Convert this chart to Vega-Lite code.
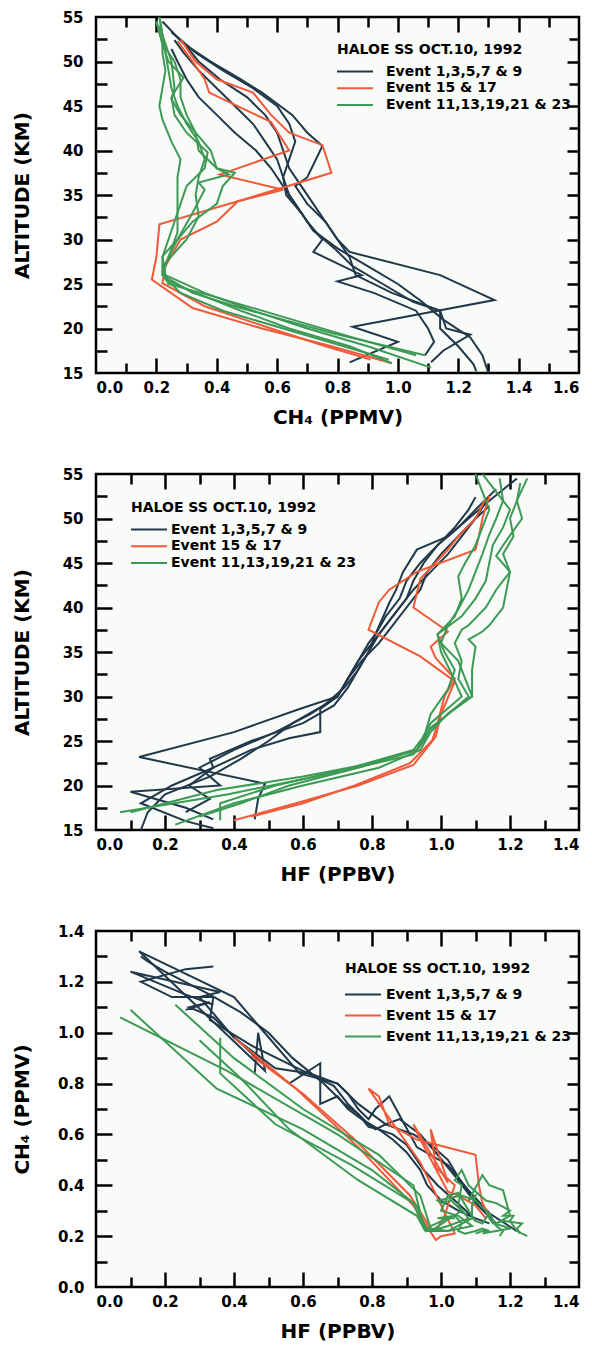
{
"$schema":"https://vega.github.io/schema/vega-lite/v6.json",
"background":"white",
"padding":{"left":10,"top":8,"right":4,"bottom":4},
"config":{
 "view":{"stroke":"black","strokeWidth":2.5,"fill":"#f8fbf8"},
 "axis":{"labelFont":"DejaVu Sans","labelFontWeight":"bold","labelFontSize":15,"labelColor":"black","titleFont":"DejaVu Sans","titleFontWeight":"bold","titleFontSize":20,"titleColor":"black","grid":false,"domain":false,"tickColor":"black","tickWidth":2.5},
 "legend":{"labelFont":"DejaVu Sans","labelFontWeight":"bold","labelFontSize":14,"labelColor":"black","titleFont":"DejaVu Sans","titleFontWeight":"bold","titleFontSize":14,"titleColor":"black","titleLimit":400,"labelLimit":400,"padding":0,"symbolType":"M-2.4,0H2.4","symbolSize":225,"symbolStrokeWidth":2,"symbolOffset":9.5,"labelOffset":22.5,"rowPadding":0.8,"titlePadding":6}
},
"datasets":{"p":[
{"ev":1,"grp":"Event 1,3,5,7 & 9","alt":54.5,"ch4":0.22,"hf":1.22},
{"ev":1,"grp":"Event 1,3,5,7 & 9","alt":52,"ch4":0.29,"hf":1.14},
{"ev":1,"grp":"Event 1,3,5,7 & 9","alt":50,"ch4":0.38,"hf":1.08},
{"ev":1,"grp":"Event 1,3,5,7 & 9","alt":48,"ch4":0.48,"hf":1.02},
{"ev":1,"grp":"Event 1,3,5,7 & 9","alt":46.5,"ch4":0.55,"hf":0.93},
{"ev":1,"grp":"Event 1,3,5,7 & 9","alt":44,"ch4":0.65,"hf":0.89},
{"ev":1,"grp":"Event 1,3,5,7 & 9","alt":42,"ch4":0.70,"hf":0.87},
{"ev":1,"grp":"Event 1,3,5,7 & 9","alt":40.5,"ch4":0.75,"hf":0.85},
{"ev":1,"grp":"Event 1,3,5,7 & 9","alt":37,"ch4":0.70,"hf":0.81},
{"ev":1,"grp":"Event 1,3,5,7 & 9","alt":36,"ch4":0.66,"hf":0.79},
{"ev":1,"grp":"Event 1,3,5,7 & 9","alt":34,"ch4":0.70,"hf":0.76},
{"ev":1,"grp":"Event 1,3,5,7 & 9","alt":32,"ch4":0.76,"hf":0.73},
{"ev":1,"grp":"Event 1,3,5,7 & 9","alt":30,"ch4":0.80,"hf":0.70},
{"ev":1,"grp":"Event 1,3,5,7 & 9","alt":28.6,"ch4":0.84,"hf":0.59},
{"ev":1,"grp":"Event 1,3,5,7 & 9","alt":26,"ch4":1.14,"hf":0.40},
{"ev":1,"grp":"Event 1,3,5,7 & 9","alt":23.2,"ch4":1.32,"hf":0.125},
{"ev":1,"grp":"Event 1,3,5,7 & 9","alt":20.2,"ch4":0.85,"hf":0.49},
{"ev":1,"grp":"Event 1,3,5,7 & 9","alt":18.5,"ch4":1.00,"hf":0.47},
{"ev":1,"grp":"Event 1,3,5,7 & 9","alt":16.2,"ch4":0.84,"hf":0.46},
{"ev":3,"grp":"Event 1,3,5,7 & 9","alt":53.3,"ch4":0.25,"hf":1.16},
{"ev":3,"grp":"Event 1,3,5,7 & 9","alt":51,"ch4":0.33,"hf":1.10},
{"ev":3,"grp":"Event 1,3,5,7 & 9","alt":49,"ch4":0.42,"hf":1.05},
{"ev":3,"grp":"Event 1,3,5,7 & 9","alt":47,"ch4":0.52,"hf":0.99},
{"ev":3,"grp":"Event 1,3,5,7 & 9","alt":45,"ch4":0.60,"hf":0.94},
{"ev":3,"grp":"Event 1,3,5,7 & 9","alt":43,"ch4":0.64,"hf":0.90},
{"ev":3,"grp":"Event 1,3,5,7 & 9","alt":41,"ch4":0.66,"hf":0.88},
{"ev":3,"grp":"Event 1,3,5,7 & 9","alt":39,"ch4":0.64,"hf":0.84},
{"ev":3,"grp":"Event 1,3,5,7 & 9","alt":37,"ch4":0.62,"hf":0.81},
{"ev":3,"grp":"Event 1,3,5,7 & 9","alt":35,"ch4":0.64,"hf":0.79},
{"ev":3,"grp":"Event 1,3,5,7 & 9","alt":33,"ch4":0.68,"hf":0.76},
{"ev":3,"grp":"Event 1,3,5,7 & 9","alt":31,"ch4":0.72,"hf":0.73},
{"ev":3,"grp":"Event 1,3,5,7 & 9","alt":29,"ch4":0.79,"hf":0.69},
{"ev":3,"grp":"Event 1,3,5,7 & 9","alt":27,"ch4":0.85,"hf":0.60},
{"ev":3,"grp":"Event 1,3,5,7 & 9","alt":25,"ch4":0.95,"hf":0.45},
{"ev":3,"grp":"Event 1,3,5,7 & 9","alt":23,"ch4":1.05,"hf":0.33},
{"ev":3,"grp":"Event 1,3,5,7 & 9","alt":22,"ch4":1.14,"hf":0.34},
{"ev":3,"grp":"Event 1,3,5,7 & 9","alt":20,"ch4":1.14,"hf":0.22},
{"ev":3,"grp":"Event 1,3,5,7 & 9","alt":18,"ch4":1.20,"hf":0.13},
{"ev":3,"grp":"Event 1,3,5,7 & 9","alt":16,"ch4":1.25,"hf":0.26},
{"ev":3,"grp":"Event 1,3,5,7 & 9","alt":15.2,"ch4":1.26,"hf":0.34},
{"ev":5,"grp":"Event 1,3,5,7 & 9","alt":52.4,"ch4":0.26,"hf":1.10},
{"ev":5,"grp":"Event 1,3,5,7 & 9","alt":51,"ch4":0.29,"hf":1.08},
{"ev":5,"grp":"Event 1,3,5,7 & 9","alt":49,"ch4":0.34,"hf":1.04},
{"ev":5,"grp":"Event 1,3,5,7 & 9","alt":47,"ch4":0.40,"hf":0.99},
{"ev":5,"grp":"Event 1,3,5,7 & 9","alt":45,"ch4":0.46,"hf":0.95},
{"ev":5,"grp":"Event 1,3,5,7 & 9","alt":43,"ch4":0.52,"hf":0.92},
{"ev":5,"grp":"Event 1,3,5,7 & 9","alt":41,"ch4":0.56,"hf":0.90},
{"ev":5,"grp":"Event 1,3,5,7 & 9","alt":39,"ch4":0.60,"hf":0.86},
{"ev":5,"grp":"Event 1,3,5,7 & 9","alt":37,"ch4":0.62,"hf":0.82},
{"ev":5,"grp":"Event 1,3,5,7 & 9","alt":35,"ch4":0.63,"hf":0.79},
{"ev":5,"grp":"Event 1,3,5,7 & 9","alt":33,"ch4":0.68,"hf":0.76},
{"ev":5,"grp":"Event 1,3,5,7 & 9","alt":31,"ch4":0.72,"hf":0.72},
{"ev":5,"grp":"Event 1,3,5,7 & 9","alt":29,"ch4":0.80,"hf":0.66},
{"ev":5,"grp":"Event 1,3,5,7 & 9","alt":27,"ch4":0.90,"hf":0.57},
{"ev":5,"grp":"Event 1,3,5,7 & 9","alt":25,"ch4":1.00,"hf":0.50},
{"ev":5,"grp":"Event 1,3,5,7 & 9","alt":23,"ch4":1.08,"hf":0.42},
{"ev":5,"grp":"Event 1,3,5,7 & 9","alt":21,"ch4":1.15,"hf":0.33},
{"ev":5,"grp":"Event 1,3,5,7 & 9","alt":19,"ch4":1.24,"hf":0.20},
{"ev":5,"grp":"Event 1,3,5,7 & 9","alt":17,"ch4":1.28,"hf":0.15},
{"ev":5,"grp":"Event 1,3,5,7 & 9","alt":15,"ch4":1.30,"hf":0.13},
{"ev":7,"grp":"Event 1,3,5,7 & 9","alt":51.4,"ch4":0.25,"hf":1.14},
{"ev":7,"grp":"Event 1,3,5,7 & 9","alt":50,"ch4":0.27,"hf":1.10},
{"ev":7,"grp":"Event 1,3,5,7 & 9","alt":48,"ch4":0.30,"hf":1.05},
{"ev":7,"grp":"Event 1,3,5,7 & 9","alt":46,"ch4":0.34,"hf":1.00},
{"ev":7,"grp":"Event 1,3,5,7 & 9","alt":44,"ch4":0.40,"hf":0.96},
{"ev":7,"grp":"Event 1,3,5,7 & 9","alt":42,"ch4":0.46,"hf":0.94},
{"ev":7,"grp":"Event 1,3,5,7 & 9","alt":40,"ch4":0.53,"hf":0.90},
{"ev":7,"grp":"Event 1,3,5,7 & 9","alt":38,"ch4":0.58,"hf":0.86},
{"ev":7,"grp":"Event 1,3,5,7 & 9","alt":36,"ch4":0.62,"hf":0.82},
{"ev":7,"grp":"Event 1,3,5,7 & 9","alt":34,"ch4":0.66,"hf":0.77},
{"ev":7,"grp":"Event 1,3,5,7 & 9","alt":32,"ch4":0.70,"hf":0.73},
{"ev":7,"grp":"Event 1,3,5,7 & 9","alt":30,"ch4":0.75,"hf":0.70},
{"ev":7,"grp":"Event 1,3,5,7 & 9","alt":28.6,"ch4":0.72,"hf":0.65},
{"ev":7,"grp":"Event 1,3,5,7 & 9","alt":26,"ch4":0.88,"hf":0.65},
{"ev":7,"grp":"Event 1,3,5,7 & 9","alt":25.3,"ch4":0.80,"hf":0.56},
{"ev":7,"grp":"Event 1,3,5,7 & 9","alt":24,"ch4":0.92,"hf":0.45},
{"ev":7,"grp":"Event 1,3,5,7 & 9","alt":22,"ch4":1.06,"hf":0.34},
{"ev":7,"grp":"Event 1,3,5,7 & 9","alt":20,"ch4":1.10,"hf":0.27},
{"ev":7,"grp":"Event 1,3,5,7 & 9","alt":18.5,"ch4":1.12,"hf":0.33},
{"ev":7,"grp":"Event 1,3,5,7 & 9","alt":17,"ch4":1.09,"hf":0.26},
{"ev":9,"grp":"Event 1,3,5,7 & 9","alt":52.5,"ch4":0.28,"hf":1.14},
{"ev":9,"grp":"Event 1,3,5,7 & 9","alt":50,"ch4":0.34,"hf":1.10},
{"ev":9,"grp":"Event 1,3,5,7 & 9","alt":48,"ch4":0.41,"hf":1.06},
{"ev":9,"grp":"Event 1,3,5,7 & 9","alt":46,"ch4":0.50,"hf":1.02},
{"ev":9,"grp":"Event 1,3,5,7 & 9","alt":44,"ch4":0.56,"hf":0.97},
{"ev":9,"grp":"Event 1,3,5,7 & 9","alt":42,"ch4":0.60,"hf":0.92},
{"ev":9,"grp":"Event 1,3,5,7 & 9","alt":40,"ch4":0.62,"hf":0.88},
{"ev":9,"grp":"Event 1,3,5,7 & 9","alt":38,"ch4":0.64,"hf":0.84},
{"ev":9,"grp":"Event 1,3,5,7 & 9","alt":36,"ch4":0.68,"hf":0.80},
{"ev":9,"grp":"Event 1,3,5,7 & 9","alt":34,"ch4":0.72,"hf":0.76},
{"ev":9,"grp":"Event 1,3,5,7 & 9","alt":32,"ch4":0.76,"hf":0.73},
{"ev":9,"grp":"Event 1,3,5,7 & 9","alt":30,"ch4":0.80,"hf":0.70},
{"ev":9,"grp":"Event 1,3,5,7 & 9","alt":28,"ch4":0.84,"hf":0.62},
{"ev":9,"grp":"Event 1,3,5,7 & 9","alt":26,"ch4":0.86,"hf":0.52},
{"ev":9,"grp":"Event 1,3,5,7 & 9","alt":24,"ch4":0.98,"hf":0.40},
{"ev":9,"grp":"Event 1,3,5,7 & 9","alt":22,"ch4":1.14,"hf":0.30},
{"ev":9,"grp":"Event 1,3,5,7 & 9","alt":20,"ch4":1.16,"hf":0.36},
{"ev":9,"grp":"Event 1,3,5,7 & 9","alt":19.3,"ch4":1.24,"hf":0.10},
{"ev":9,"grp":"Event 1,3,5,7 & 9","alt":17.5,"ch4":1.15,"hf":0.26},
{"ev":9,"grp":"Event 1,3,5,7 & 9","alt":16.2,"ch4":1.11,"hf":0.34},
{"ev":15,"grp":"Event 15 & 17","alt":52.5,"ch4":0.28,"hf":1.14},
{"ev":15,"grp":"Event 15 & 17","alt":50,"ch4":0.33,"hf":1.12},
{"ev":15,"grp":"Event 15 & 17","alt":48,"ch4":0.40,"hf":1.11},
{"ev":15,"grp":"Event 15 & 17","alt":46.5,"ch4":0.52,"hf":1.10},
{"ev":15,"grp":"Event 15 & 17","alt":44,"ch4":0.58,"hf":0.93},
{"ev":15,"grp":"Event 15 & 17","alt":42,"ch4":0.64,"hf":0.85},
{"ev":15,"grp":"Event 15 & 17","alt":40.6,"ch4":0.75,"hf":0.82},
{"ev":15,"grp":"Event 15 & 17","alt":37.5,"ch4":0.78,"hf":0.79},
{"ev":15,"grp":"Event 15 & 17","alt":34.5,"ch4":0.49,"hf":0.94},
{"ev":15,"grp":"Event 15 & 17","alt":31.7,"ch4":0.21,"hf":1.04},
{"ev":15,"grp":"Event 15 & 17","alt":28,"ch4":0.20,"hf":1.00},
{"ev":15,"grp":"Event 15 & 17","alt":25.5,"ch4":0.185,"hf":0.985},
{"ev":15,"grp":"Event 15 & 17","alt":22.3,"ch4":0.32,"hf":0.92},
{"ev":15,"grp":"Event 15 & 17","alt":20,"ch4":0.55,"hf":0.76},
{"ev":15,"grp":"Event 15 & 17","alt":18,"ch4":0.78,"hf":0.58},
{"ev":15,"grp":"Event 15 & 17","alt":16.1,"ch4":0.98,"hf":0.40},
{"ev":17,"grp":"Event 15 & 17","alt":52.3,"ch4":0.27,"hf":1.13},
{"ev":17,"grp":"Event 15 & 17","alt":50,"ch4":0.32,"hf":1.10},
{"ev":17,"grp":"Event 15 & 17","alt":48,"ch4":0.36,"hf":1.05},
{"ev":17,"grp":"Event 15 & 17","alt":46.5,"ch4":0.375,"hf":1.02},
{"ev":17,"grp":"Event 15 & 17","alt":43.2,"ch4":0.58,"hf":0.94},
{"ev":17,"grp":"Event 15 & 17","alt":40,"ch4":0.64,"hf":0.92},
{"ev":17,"grp":"Event 15 & 17","alt":37.3,"ch4":0.41,"hf":1.02},
{"ev":17,"grp":"Event 15 & 17","alt":35.6,"ch4":0.62,"hf":0.97},
{"ev":17,"grp":"Event 15 & 17","alt":34.3,"ch4":0.47,"hf":0.985},
{"ev":17,"grp":"Event 15 & 17","alt":32,"ch4":0.40,"hf":1.04},
{"ev":17,"grp":"Event 15 & 17","alt":30,"ch4":0.28,"hf":1.01},
{"ev":17,"grp":"Event 15 & 17","alt":27,"ch4":0.23,"hf":0.99},
{"ev":17,"grp":"Event 15 & 17","alt":25.1,"ch4":0.22,"hf":0.975},
{"ev":17,"grp":"Event 15 & 17","alt":22.5,"ch4":0.36,"hf":0.91},
{"ev":17,"grp":"Event 15 & 17","alt":20,"ch4":0.58,"hf":0.75},
{"ev":17,"grp":"Event 15 & 17","alt":18,"ch4":0.76,"hf":0.60},
{"ev":17,"grp":"Event 15 & 17","alt":16.5,"ch4":0.91,"hf":0.45},
{"ev":11,"grp":"Event 11,13,19,21 & 23","alt":55,"ch4":0.21,"hf":1.10},
{"ev":11,"grp":"Event 11,13,19,21 & 23","alt":53,"ch4":0.22,"hf":1.12},
{"ev":11,"grp":"Event 11,13,19,21 & 23","alt":51,"ch4":0.22,"hf":1.14},
{"ev":11,"grp":"Event 11,13,19,21 & 23","alt":49,"ch4":0.23,"hf":1.12},
{"ev":11,"grp":"Event 11,13,19,21 & 23","alt":47,"ch4":0.22,"hf":1.10},
{"ev":11,"grp":"Event 11,13,19,21 & 23","alt":45,"ch4":0.21,"hf":1.07},
{"ev":11,"grp":"Event 11,13,19,21 & 23","alt":43.5,"ch4":0.22,"hf":1.05},
{"ev":11,"grp":"Event 11,13,19,21 & 23","alt":41,"ch4":0.25,"hf":1.06},
{"ev":11,"grp":"Event 11,13,19,21 & 23","alt":39,"ch4":0.28,"hf":1.04},
{"ev":11,"grp":"Event 11,13,19,21 & 23","alt":37,"ch4":0.27,"hf":0.99},
{"ev":11,"grp":"Event 11,13,19,21 & 23","alt":35,"ch4":0.27,"hf":1.01},
{"ev":11,"grp":"Event 11,13,19,21 & 23","alt":33,"ch4":0.27,"hf":1.04},
{"ev":11,"grp":"Event 11,13,19,21 & 23","alt":30.8,"ch4":0.27,"hf":1.02},
{"ev":11,"grp":"Event 11,13,19,21 & 23","alt":28,"ch4":0.24,"hf":0.97},
{"ev":11,"grp":"Event 11,13,19,21 & 23","alt":26,"ch4":0.22,"hf":0.955},
{"ev":11,"grp":"Event 11,13,19,21 & 23","alt":24,"ch4":0.28,"hf":0.93},
{"ev":11,"grp":"Event 11,13,19,21 & 23","alt":22,"ch4":0.42,"hf":0.76},
{"ev":11,"grp":"Event 11,13,19,21 & 23","alt":20,"ch4":0.62,"hf":0.56},
{"ev":11,"grp":"Event 11,13,19,21 & 23","alt":18,"ch4":0.82,"hf":0.42},
{"ev":11,"grp":"Event 11,13,19,21 & 23","alt":16.5,"ch4":0.97,"hf":0.30},
{"ev":13,"grp":"Event 11,13,19,21 & 23","alt":54.5,"ch4":0.20,"hf":1.17},
{"ev":13,"grp":"Event 11,13,19,21 & 23","alt":52,"ch4":0.22,"hf":1.18},
{"ev":13,"grp":"Event 11,13,19,21 & 23","alt":50,"ch4":0.24,"hf":1.16},
{"ev":13,"grp":"Event 11,13,19,21 & 23","alt":48.2,"ch4":0.29,"hf":1.14},
{"ev":13,"grp":"Event 11,13,19,21 & 23","alt":46,"ch4":0.25,"hf":1.12},
{"ev":13,"grp":"Event 11,13,19,21 & 23","alt":44,"ch4":0.26,"hf":1.10},
{"ev":13,"grp":"Event 11,13,19,21 & 23","alt":42,"ch4":0.30,"hf":1.08},
{"ev":13,"grp":"Event 11,13,19,21 & 23","alt":39.8,"ch4":0.37,"hf":1.05},
{"ev":13,"grp":"Event 11,13,19,21 & 23","alt":38,"ch4":0.36,"hf":1.02},
{"ev":13,"grp":"Event 11,13,19,21 & 23","alt":36,"ch4":0.30,"hf":1.00},
{"ev":13,"grp":"Event 11,13,19,21 & 23","alt":34,"ch4":0.28,"hf":1.05},
{"ev":13,"grp":"Event 11,13,19,21 & 23","alt":32,"ch4":0.26,"hf":1.07},
{"ev":13,"grp":"Event 11,13,19,21 & 23","alt":30,"ch4":0.24,"hf":1.09},
{"ev":13,"grp":"Event 11,13,19,21 & 23","alt":28,"ch4":0.22,"hf":1.02},
{"ev":13,"grp":"Event 11,13,19,21 & 23","alt":26,"ch4":0.22,"hf":0.96},
{"ev":13,"grp":"Event 11,13,19,21 & 23","alt":24,"ch4":0.32,"hf":0.93},
{"ev":13,"grp":"Event 11,13,19,21 & 23","alt":22.5,"ch4":0.46,"hf":0.80},
{"ev":13,"grp":"Event 11,13,19,21 & 23","alt":21,"ch4":0.62,"hf":0.60},
{"ev":13,"grp":"Event 11,13,19,21 & 23","alt":19.5,"ch4":0.78,"hf":0.35},
{"ev":13,"grp":"Event 11,13,19,21 & 23","alt":17,"ch4":1.09,"hf":0.10},
{"ev":19,"grp":"Event 11,13,19,21 & 23","alt":54,"ch4":0.21,"hf":1.23},
{"ev":19,"grp":"Event 11,13,19,21 & 23","alt":52,"ch4":0.23,"hf":1.22},
{"ev":19,"grp":"Event 11,13,19,21 & 23","alt":50,"ch4":0.25,"hf":1.235},
{"ev":19,"grp":"Event 11,13,19,21 & 23","alt":47,"ch4":0.26,"hf":1.18},
{"ev":19,"grp":"Event 11,13,19,21 & 23","alt":45.8,"ch4":0.25,"hf":1.16},
{"ev":19,"grp":"Event 11,13,19,21 & 23","alt":44,"ch4":0.28,"hf":1.20},
{"ev":19,"grp":"Event 11,13,19,21 & 23","alt":42,"ch4":0.33,"hf":1.19},
{"ev":19,"grp":"Event 11,13,19,21 & 23","alt":40,"ch4":0.38,"hf":1.18},
{"ev":19,"grp":"Event 11,13,19,21 & 23","alt":38,"ch4":0.40,"hf":1.14},
{"ev":19,"grp":"Event 11,13,19,21 & 23","alt":37.3,"ch4":0.44,"hf":1.12},
{"ev":19,"grp":"Event 11,13,19,21 & 23","alt":36.4,"ch4":0.34,"hf":1.08},
{"ev":19,"grp":"Event 11,13,19,21 & 23","alt":35.6,"ch4":0.36,"hf":1.10},
{"ev":19,"grp":"Event 11,13,19,21 & 23","alt":33,"ch4":0.32,"hf":1.09},
{"ev":19,"grp":"Event 11,13,19,21 & 23","alt":30,"ch4":0.27,"hf":1.09},
{"ev":19,"grp":"Event 11,13,19,21 & 23","alt":28.1,"ch4":0.22,"hf":1.02},
{"ev":19,"grp":"Event 11,13,19,21 & 23","alt":26,"ch4":0.23,"hf":0.97},
{"ev":19,"grp":"Event 11,13,19,21 & 23","alt":24,"ch4":0.36,"hf":0.94},
{"ev":19,"grp":"Event 11,13,19,21 & 23","alt":22,"ch4":0.52,"hf":0.82},
{"ev":19,"grp":"Event 11,13,19,21 & 23","alt":20,"ch4":0.70,"hf":0.60},
{"ev":19,"grp":"Event 11,13,19,21 & 23","alt":18,"ch4":0.90,"hf":0.40},
{"ev":19,"grp":"Event 11,13,19,21 & 23","alt":15.6,"ch4":1.11,"hf":0.23},
{"ev":21,"grp":"Event 11,13,19,21 & 23","alt":55,"ch4":0.21,"hf":1.12},
{"ev":21,"grp":"Event 11,13,19,21 & 23","alt":53,"ch4":0.22,"hf":1.16},
{"ev":21,"grp":"Event 11,13,19,21 & 23","alt":51,"ch4":0.23,"hf":1.20},
{"ev":21,"grp":"Event 11,13,19,21 & 23","alt":49,"ch4":0.24,"hf":1.18},
{"ev":21,"grp":"Event 11,13,19,21 & 23","alt":47,"ch4":0.25,"hf":1.15},
{"ev":21,"grp":"Event 11,13,19,21 & 23","alt":45,"ch4":0.27,"hf":1.14},
{"ev":21,"grp":"Event 11,13,19,21 & 23","alt":43,"ch4":0.30,"hf":1.13},
{"ev":21,"grp":"Event 11,13,19,21 & 23","alt":41,"ch4":0.34,"hf":1.10},
{"ev":21,"grp":"Event 11,13,19,21 & 23","alt":39,"ch4":0.36,"hf":1.06},
{"ev":21,"grp":"Event 11,13,19,21 & 23","alt":37,"ch4":0.34,"hf":0.99},
{"ev":21,"grp":"Event 11,13,19,21 & 23","alt":35,"ch4":0.33,"hf":1.00},
{"ev":21,"grp":"Event 11,13,19,21 & 23","alt":32.6,"ch4":0.34,"hf":1.03},
{"ev":21,"grp":"Event 11,13,19,21 & 23","alt":30,"ch4":0.30,"hf":1.06},
{"ev":21,"grp":"Event 11,13,19,21 & 23","alt":27,"ch4":0.22,"hf":0.97},
{"ev":21,"grp":"Event 11,13,19,21 & 23","alt":25.5,"ch4":0.23,"hf":0.95},
{"ev":21,"grp":"Event 11,13,19,21 & 23","alt":24,"ch4":0.33,"hf":0.92},
{"ev":21,"grp":"Event 11,13,19,21 & 23","alt":22,"ch4":0.48,"hf":0.74},
{"ev":21,"grp":"Event 11,13,19,21 & 23","alt":20,"ch4":0.64,"hf":0.52},
{"ev":21,"grp":"Event 11,13,19,21 & 23","alt":18,"ch4":0.84,"hf":0.36},
{"ev":21,"grp":"Event 11,13,19,21 & 23","alt":16.1,"ch4":0.98,"hf":0.36},
{"ev":23,"grp":"Event 11,13,19,21 & 23","alt":54.5,"ch4":0.20,"hf":1.25},
{"ev":23,"grp":"Event 11,13,19,21 & 23","alt":52,"ch4":0.22,"hf":1.22},
{"ev":23,"grp":"Event 11,13,19,21 & 23","alt":50,"ch4":0.26,"hf":1.20},
{"ev":23,"grp":"Event 11,13,19,21 & 23","alt":48,"ch4":0.28,"hf":1.21},
{"ev":23,"grp":"Event 11,13,19,21 & 23","alt":46,"ch4":0.28,"hf":1.18},
{"ev":23,"grp":"Event 11,13,19,21 & 23","alt":44,"ch4":0.30,"hf":1.20},
{"ev":23,"grp":"Event 11,13,19,21 & 23","alt":42,"ch4":0.33,"hf":1.16},
{"ev":23,"grp":"Event 11,13,19,21 & 23","alt":40,"ch4":0.34,"hf":1.13},
{"ev":23,"grp":"Event 11,13,19,21 & 23","alt":38,"ch4":0.40,"hf":1.08},
{"ev":23,"grp":"Event 11,13,19,21 & 23","alt":37.5,"ch4":0.46,"hf":1.06},
{"ev":23,"grp":"Event 11,13,19,21 & 23","alt":36,"ch4":0.42,"hf":1.04},
{"ev":23,"grp":"Event 11,13,19,21 & 23","alt":34,"ch4":0.40,"hf":1.06},
{"ev":23,"grp":"Event 11,13,19,21 & 23","alt":32,"ch4":0.32,"hf":1.05},
{"ev":23,"grp":"Event 11,13,19,21 & 23","alt":30,"ch4":0.27,"hf":1.08},
{"ev":23,"grp":"Event 11,13,19,21 & 23","alt":28,"ch4":0.24,"hf":1.02},
{"ev":23,"grp":"Event 11,13,19,21 & 23","alt":26.5,"ch4":0.22,"hf":0.97},
{"ev":23,"grp":"Event 11,13,19,21 & 23","alt":25,"ch4":0.24,"hf":0.95},
{"ev":23,"grp":"Event 11,13,19,21 & 23","alt":23.5,"ch4":0.40,"hf":0.92},
{"ev":23,"grp":"Event 11,13,19,21 & 23","alt":21.5,"ch4":0.60,"hf":0.70},
{"ev":23,"grp":"Event 11,13,19,21 & 23","alt":19,"ch4":0.85,"hf":0.38},
{"ev":23,"grp":"Event 11,13,19,21 & 23","alt":17,"ch4":1.06,"hf":0.07}
]},
"vconcat":[
{
 "width":483,"height":356,
 "data":{"name":"p"},
 "layer":[
  {"mark":{"type":"line","strokeWidth":2},
   "encoding":{
    "x":{"field":"ch4","type":"quantitative","scale":{"domain":[0,1.6],"nice":false,"zero":false},"axis":{"orient":"bottom","ticks":false,"values":[0,0.2,0.4,0.6,0.8,1.0,1.2,1.4,1.6],"format":".1f","title":"CH₄ (PPMV)","labelPadding":7,"titlePadding":12}},
    "y":{"field":"alt","type":"quantitative","scale":{"domain":[15,55],"nice":false,"zero":false},"axis":{"orient":"left","ticks":false,"values":[15,20,25,30,35,40,45,50,55],"title":"ALTITUDE (KM)","labelPadding":13,"titleX":-64}},
    "color":{"field":"grp","type":"nominal","scale":{"domain":["Event 1,3,5,7 & 9","Event 15 & 17","Event 11,13,19,21 & 23"],"range":["#21384a","#f05a3a","#3d9a55"]},"legend":{"title":"HALOE SS OCT.10, 1992","orient":"none","legendX":241,"legendY":26}},
    "detail":{"field":"ev","type":"nominal"},
    "order":{"field":"alt","type":"quantitative"}
   }},
  {"mark":{"type":"point","opacity":0},
   "encoding":{
    "x":{"field":"ch4","type":"quantitative","scale":{"domain":[0,1.6],"nice":false,"zero":false},"axis":{"orient":"bottom","labels":false,"title":null,"values":[0.1,0.2,0.3,0.4,0.5,0.6,0.7,0.8,0.9,1.0,1.1,1.2,1.3,1.4,1.5],"tickSize":{"condition":{"test":"round(datum.value*10)%2==0","value":-15},"value":-10}}},
    "y":{"field":"alt","type":"quantitative","scale":{"domain":[15,55],"nice":false,"zero":false},"axis":{"orient":"left","labels":false,"title":null,"values":[17.5,20,22.5,25,27.5,30,32.5,35,37.5,40,42.5,45,47.5,50,52.5],"tickSize":{"condition":{"test":"datum.value%5==0","value":-16},"value":-11}}}
   }},
  {"mark":{"type":"point","opacity":0},
   "encoding":{
    "x":{"field":"ch4","type":"quantitative","scale":{"domain":[0,1.6],"nice":false,"zero":false},"axis":{"orient":"top","labels":false,"title":null,"values":[0.1,0.2,0.3,0.4,0.5,0.6,0.7,0.8,0.9,1.0,1.1,1.2,1.3,1.4,1.5],"tickSize":{"condition":{"test":"round(datum.value*10)%2==0","value":-15},"value":-10}}},
    "y":{"field":"alt","type":"quantitative","scale":{"domain":[15,55],"nice":false,"zero":false},"axis":{"orient":"right","labels":false,"title":null,"values":[17.5,20,22.5,25,27.5,30,32.5,35,37.5,40,42.5,45,47.5,50,52.5],"tickSize":{"condition":{"test":"datum.value%5==0","value":-12},"value":-10}}}
   }}
 ],
 "resolve":{"axis":{"x":"independent","y":"independent"}}
},
{
 "width":483,"height":356,
 "data":{"name":"p"},
 "layer":[
  {"mark":{"type":"line","strokeWidth":2},
   "encoding":{
    "x":{"field":"hf","type":"quantitative","scale":{"domain":[0,1.4],"nice":false,"zero":false},"axis":{"orient":"bottom","ticks":false,"values":[0,0.2,0.4,0.6,0.8,1.0,1.2,1.4],"format":".1f","title":"HF (PPBV)","labelPadding":7,"titlePadding":12}},
    "y":{"field":"alt","type":"quantitative","scale":{"domain":[15,55],"nice":false,"zero":false},"axis":{"orient":"left","ticks":false,"values":[15,20,25,30,35,40,45,50,55],"title":"ALTITUDE (KM)","labelPadding":13,"titleX":-64}},
    "color":{"field":"grp","type":"nominal","scale":{"domain":["Event 1,3,5,7 & 9","Event 15 & 17","Event 11,13,19,21 & 23"],"range":["#21384a","#f05a3a","#3d9a55"]},"legend":{"title":"HALOE SS OCT.10, 1992","orient":"none","legendX":35,"legendY":27,"labelOffset":13.5}},
    "detail":{"field":"ev","type":"nominal"},
    "order":{"field":"alt","type":"quantitative"}
   }},
  {"mark":{"type":"point","opacity":0},
   "encoding":{
    "x":{"field":"hf","type":"quantitative","scale":{"domain":[0,1.4],"nice":false,"zero":false},"axis":{"orient":"bottom","labels":false,"title":null,"values":[0.1,0.2,0.3,0.4,0.5,0.6,0.7,0.8,0.9,1.0,1.1,1.2,1.3],"tickSize":{"condition":{"test":"round(datum.value*10)%2==0","value":-15},"value":-10}}},
    "y":{"field":"alt","type":"quantitative","scale":{"domain":[15,55],"nice":false,"zero":false},"axis":{"orient":"left","labels":false,"title":null,"values":[17.5,20,22.5,25,27.5,30,32.5,35,37.5,40,42.5,45,47.5,50,52.5],"tickSize":{"condition":{"test":"datum.value%5==0","value":-16},"value":-11}}}
   }},
  {"mark":{"type":"point","opacity":0},
   "encoding":{
    "x":{"field":"hf","type":"quantitative","scale":{"domain":[0,1.4],"nice":false,"zero":false},"axis":{"orient":"top","labels":false,"title":null,"values":[0.1,0.2,0.3,0.4,0.5,0.6,0.7,0.8,0.9,1.0,1.1,1.2,1.3],"tickSize":{"condition":{"test":"round(datum.value*10)%2==0","value":-15},"value":-10}}},
    "y":{"field":"alt","type":"quantitative","scale":{"domain":[15,55],"nice":false,"zero":false},"axis":{"orient":"right","labels":false,"title":null,"values":[17.5,20,22.5,25,27.5,30,32.5,35,37.5,40,42.5,45,47.5,50,52.5],"tickSize":{"condition":{"test":"datum.value%5==0","value":-12},"value":-10}}}
   }}
 ],
 "resolve":{"axis":{"x":"independent","y":"independent"}}
},
{
 "width":483,"height":356,
 "data":{"name":"p"},
 "layer":[
  {"mark":{"type":"line","strokeWidth":2},
   "encoding":{
    "x":{"field":"hf","type":"quantitative","scale":{"domain":[0,1.4],"nice":false,"zero":false},"axis":{"orient":"bottom","ticks":false,"values":[0,0.2,0.4,0.6,0.8,1.0,1.2,1.4],"format":".1f","title":"HF (PPBV)","labelPadding":7,"titlePadding":12}},
    "y":{"field":"ch4","type":"quantitative","scale":{"domain":[0,1.4],"nice":false,"zero":false},"axis":{"orient":"left","ticks":false,"values":[0,0.2,0.4,0.6,0.8,1.0,1.2,1.4],"format":".1f","title":"CH₄ (PPMV)","labelPadding":12,"titleX":-64}},
    "color":{"field":"grp","type":"nominal","scale":{"domain":["Event 1,3,5,7 & 9","Event 15 & 17","Event 11,13,19,21 & 23"],"range":["#21384a","#f05a3a","#3d9a55"]},"legend":{"title":"HALOE SS OCT.10, 1992","orient":"none","legendX":249,"legendY":31,"rowPadding":5,"titlePadding":10,"labelOffset":14.5}},
    "detail":{"field":"ev","type":"nominal"},
    "order":{"field":"alt","type":"quantitative"}
   }},
  {"mark":{"type":"point","opacity":0},
   "encoding":{
    "x":{"field":"hf","type":"quantitative","scale":{"domain":[0,1.4],"nice":false,"zero":false},"axis":{"orient":"bottom","labels":false,"title":null,"values":[0.1,0.2,0.3,0.4,0.5,0.6,0.7,0.8,0.9,1.0,1.1,1.2,1.3],"tickSize":{"condition":{"test":"round(datum.value*10)%2==0","value":-15},"value":-10}}},
    "y":{"field":"ch4","type":"quantitative","scale":{"domain":[0,1.4],"nice":false,"zero":false},"axis":{"orient":"left","labels":false,"title":null,"values":[0.1,0.2,0.3,0.4,0.5,0.6,0.7,0.8,0.9,1.0,1.1,1.2,1.3],"tickSize":{"condition":{"test":"round(datum.value*10)%2==0","value":-16},"value":-11}}}
   }},
  {"mark":{"type":"point","opacity":0},
   "encoding":{
    "x":{"field":"hf","type":"quantitative","scale":{"domain":[0,1.4],"nice":false,"zero":false},"axis":{"orient":"top","labels":false,"title":null,"values":[0.1,0.2,0.3,0.4,0.5,0.6,0.7,0.8,0.9,1.0,1.1,1.2,1.3],"tickSize":{"condition":{"test":"round(datum.value*10)%2==0","value":-15},"value":-10}}},
    "y":{"field":"ch4","type":"quantitative","scale":{"domain":[0,1.4],"nice":false,"zero":false},"axis":{"orient":"right","labels":false,"title":null,"values":[0.1,0.2,0.3,0.4,0.5,0.6,0.7,0.8,0.9,1.0,1.1,1.2,1.3],"tickSize":{"condition":{"test":"round(datum.value*10)%2==0","value":-12},"value":-10}}}
   }}
 ],
 "resolve":{"axis":{"x":"independent","y":"independent"}}
}
],
"spacing":101,
"bounds":"flush",
"resolve":{"legend":{"color":"independent"}}
}
